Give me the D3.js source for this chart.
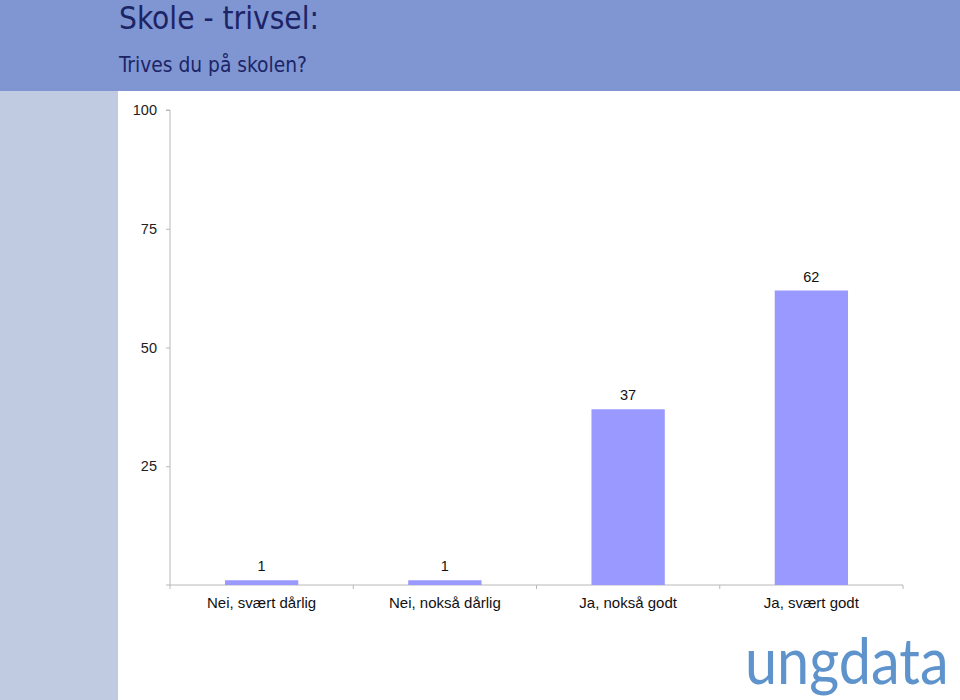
<!DOCTYPE html>
<html><head><meta charset="utf-8">
<script src="https://cdn.jsdelivr.net/npm/d3@7"></script>
<style>body{margin:0;background:#fff;overflow:hidden}</style>
</head><body>
<svg id="c" width="960" height="700"></svg>
<script>
const categories = ["Nei, svært dårlig", "Nei, nokså dårlig", "Ja, nokså godt", "Ja, svært godt"];
const values = [1, 1, 37, 62];
const yTicks = [25, 50, 75, 100];
const title = "Skole - trivsel:";
const subtitle = "Trives du på skolen?";

const svg = d3.select("#c");
svg.append("rect").attr("x",0).attr("y",0).attr("width",960).attr("height",91).attr("fill","#8096d2");
svg.append("rect").attr("x",0).attr("y",91).attr("width",118).attr("height",609).attr("fill","#c0cae0");

const hfont = "DejaVu Sans Condensed, DejaVu Sans, Verdana, sans-serif";
svg.append("text").attr("x",119).attr("y",29).text(title)
  .attr("font-family",hfont).attr("font-size",32).attr("fill","#1c2466")
  .attr("textLength",200).attr("lengthAdjust","spacingAndGlyphs");
svg.append("text").attr("x",119).attr("y",72).text(subtitle)
  .attr("font-family",hfont).attr("font-size",22).attr("fill","#1c2466")
  .attr("textLength",188).attr("lengthAdjust","spacingAndGlyphs");

const x = d3.scaleBand().domain(categories).range([170, 903]).paddingInner(0.6).paddingOuter(0.3);
const xOuter = d3.scaleBand().domain(categories).range([170, 903]);
const y = d3.scaleLinear().domain([0, 100]).range([585, 110]);

const font = "Liberation Sans, Arial, sans-serif";
const g = svg.append("g");
const yAxis = d3.axisLeft(y).tickValues(yTicks).tickSize(4).tickPadding(9);
const ya = g.append("g").attr("transform","translate(170,0)").call(yAxis);
ya.select(".domain").attr("stroke","#b8b8b8").attr("d","M-4,110H0V585");
ya.selectAll(".tick line").attr("stroke","#b8b8b8");
ya.selectAll(".tick text").attr("font-family",font).attr("font-size",14.5).attr("fill","#222");

const xa = g.append("g").attr("transform","translate(0,585)");
xa.append("line").attr("x1",166).attr("x2",903).attr("y1",0).attr("y2",0).attr("stroke","#b8b8b8");
const bounds = categories.map(c => xOuter(c)).concat([903]);
xa.selectAll(".tk").data(bounds).join("line").attr("x1",d=>d).attr("x2",d=>d).attr("y1",0).attr("y2",4).attr("stroke","#b8b8b8");
xa.selectAll(".lbl").data(categories).join("text")
  .attr("x", d => xOuter(d) + xOuter.bandwidth()/2).attr("y", 23)
  .attr("text-anchor","middle").attr("font-family",font).attr("font-size",15).attr("fill","#111").text(d=>d);

g.selectAll(".bar").data(values).join("rect")
  .attr("x",(d,i)=>x(categories[i])).attr("width",x.bandwidth())
  .attr("y",d=>y(d)).attr("height",d=>585-y(d)).attr("fill","#9999ff");
g.selectAll(".val").data(values).join("text")
  .attr("x",(d,i)=>x(categories[i])+x.bandwidth()/2).attr("y",d=>y(d)-9)
  .attr("text-anchor","middle").attr("font-family",font).attr("font-size",14.5).attr("fill","#111").text(d=>d);

svg.append("text").attr("transform","translate(745,684) scale(0.9,1)").text("ungdata")
  .attr("font-family","Lato, sans-serif").attr("font-size",64).attr("fill","#5f93cc");
</script>
</body></html>
